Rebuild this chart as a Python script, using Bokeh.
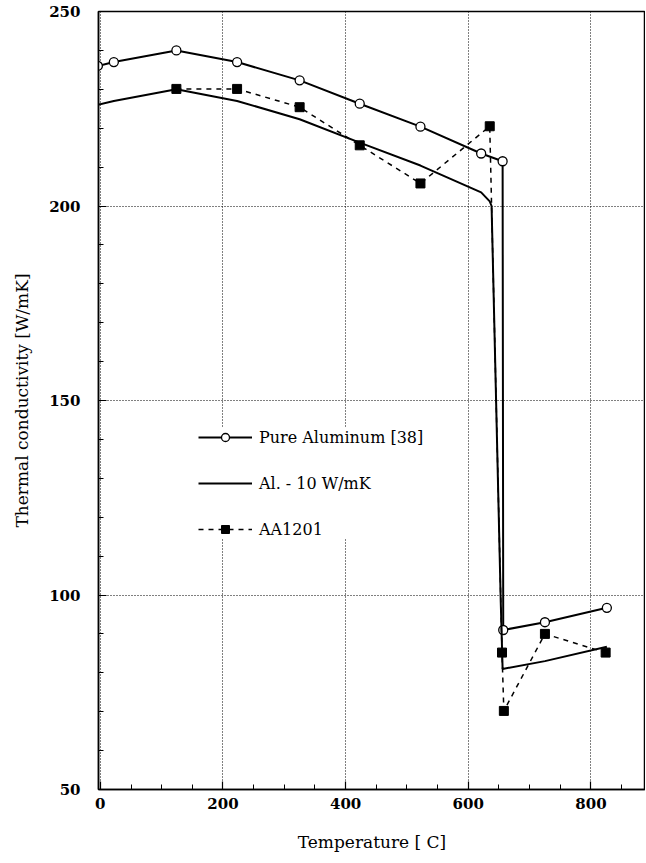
from bokeh.plotting import figure
from bokeh.models import (SingleIntervalTicker, Legend, LegendItem,
                          Range1d, ColumnDataSource)
from bokeh.embed import file_html
from bokeh.resources import INLINE

# ---- data ----
temp_pure = [-4, 22, 124, 223, 325, 423, 522, 621, 656, 657, 725, 826]
k_pure = [236, 237, 240, 237, 232.3, 226.3, 220.4, 213.5, 211.5, 91, 93, 96.7]

temp_al10 = [-4, 22, 124, 223, 325, 423, 522, 621, 635, 638, 653, 656, 725, 826]
k_al10 = [226, 227, 230, 227, 222.3, 216.3, 210.4, 203.5, 201.2, 200, 98, 81, 83, 86.7]

temp_aa = [124, 223, 325, 423, 522, 635, 655, 658, 725, 824]
k_aa = [230.1, 230.1, 225.4, 215.6, 205.8, 220.5, 85.2, 70.2, 90, 85.2]

x_ticks_interval = 200
y_ticks_interval = 50
x_label = "Temperature [ C]"
y_label = "Thermal conductivity [W/mK]"
labels = ["Pure Aluminum [38]", "Al. - 10 W/mK", "AA1201"]

FONT = "DejaVu Serif"

p = figure(frame_width=547, frame_height=778,
           x_range=Range1d(-3, 889), y_range=Range1d(50, 250),
           output_backend="svg", toolbar_location=None,
           min_border_left=98, min_border_top=11, min_border_right=0,
           min_border_bottom=0,
           background_fill_color="white", border_fill_color="white")
p.outline_line_color = "black"
p.outline_line_width = 1.5

xt = SingleIntervalTicker(interval=x_ticks_interval, num_minor_ticks=4)
yt = SingleIntervalTicker(interval=y_ticks_interval, num_minor_ticks=5)
p.xaxis.ticker = xt
p.yaxis.ticker = yt
p.xgrid.ticker = xt
p.ygrid.ticker = yt

for ax in (p.xaxis[0], p.yaxis[0]):
    ax.major_tick_in = 8
    ax.major_tick_out = 0
    ax.minor_tick_in = 5
    ax.minor_tick_out = 0
    ax.axis_line_width = 1.5
    ax.major_tick_line_width = 1.2
    ax.major_label_text_font = FONT
    ax.major_label_text_font_style = "bold"
    ax.major_label_text_font_size = "15px"
    ax.major_label_text_color = "black"
    ax.axis_label_text_font = FONT
    ax.axis_label_text_font_style = "normal"
    ax.axis_label_text_font_size = "17px"
    ax.axis_label_text_color = "black"

p.xaxis.axis_label = x_label
p.yaxis.axis_label = y_label
p.xaxis.major_label_standoff = 8
p.xaxis.axis_label_standoff = 20
p.yaxis.major_label_standoff = 18
p.yaxis.axis_label_standoff = 14

for g in (p.xgrid[0], p.ygrid[0]):
    g.grid_line_color = "black"
    g.grid_line_dash = "1 2"
    g.grid_line_width = 1

src_pure = ColumnDataSource(dict(x=temp_pure, y=k_pure))
src_al10 = ColumnDataSource(dict(x=temp_al10, y=k_al10))
src_aa = ColumnDataSource(dict(x=temp_aa, y=k_aa))

r_pl = p.line("x", "y", source=src_pure, line_color="black", line_width=2)
r_pc = p.scatter("x", "y", source=src_pure, marker="circle", size=9,
                 fill_color="white", line_color="black", line_width=1.3)
r_al = p.line("x", "y", source=src_al10, line_color="black", line_width=2)
r_al_dash = p.line("x", "y", source=src_aa, line_color="black", line_width=1.5,
                   line_dash="5 5")
r_as = p.scatter("x", "y", source=src_aa, marker="square", size=9,
                 fill_color="black", line_color="black")

legend = Legend(items=[LegendItem(label=labels[0], renderers=[r_pl, r_pc]),
                       LegendItem(label=labels[1], renderers=[r_al]),
                       LegendItem(label=labels[2], renderers=[r_al_dash, r_as])],
                location=(100, 250),
                border_line_color=None, background_fill_color="white",
                background_fill_alpha=1.0,
                glyph_width=54, glyph_height=20, label_height=20,
                spacing=26, padding=10, margin=0, label_standoff=7,
                label_text_font=FONT, label_text_font_size="16px",
                label_text_color="black")
p.add_layout(legend)

open("out.html", "w").write(file_html(p, INLINE))
